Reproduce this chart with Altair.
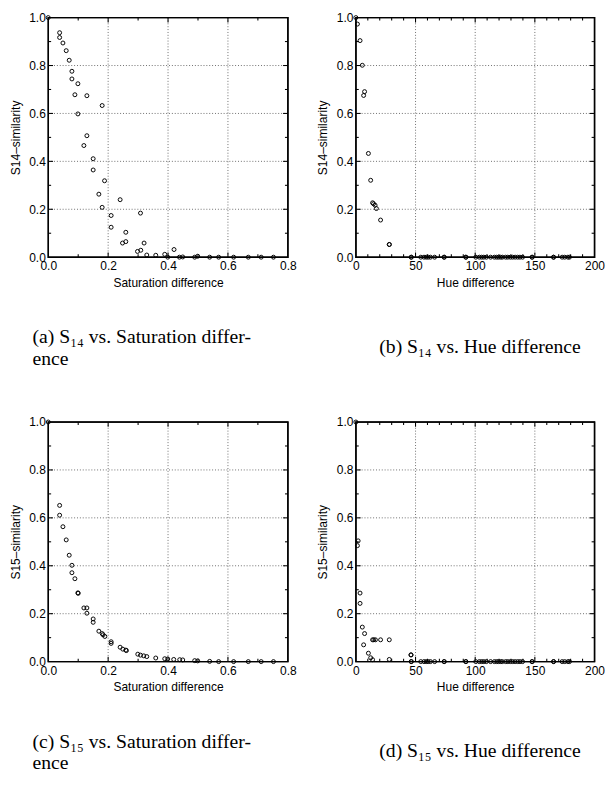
import altair as alt
import pandas as pd

# ---------------- data ----------------
sat14_x = [0.0, 0.038, 0.038, 0.049, 0.060, 0.070, 0.079, 0.079, 0.099, 0.089, 0.129, 0.180,
           0.099, 0.129, 0.119, 0.150, 0.150, 0.188, 0.169, 0.240, 0.180, 0.308, 0.210, 0.210,
           0.259, 0.259, 0.248, 0.320, 0.309, 0.298, 0.420, 0.329, 0.359, 0.389, 0.399, 0.438,
           0.449, 0.489, 0.499, 0.539, 0.569, 0.619, 0.668, 0.711, 0.752]
sat14_y = [1.0, 0.937, 0.917, 0.894, 0.862, 0.822, 0.776, 0.744, 0.724, 0.678, 0.674, 0.633,
           0.598, 0.507, 0.466, 0.411, 0.364, 0.319, 0.263, 0.240, 0.208, 0.184, 0.174, 0.125,
           0.104, 0.065, 0.059, 0.059, 0.029, 0.024, 0.032, 0.009, 0.008, 0.012, 0.0, 0.0,
           0.001, 0.0, 0.004, 0.0, 0.0, 0.0, 0.0, 0.0, 0.0]

sat15_x = [0.0, 0.038, 0.038, 0.049, 0.060, 0.070, 0.079, 0.079, 0.089, 0.099, 0.100, 0.119,
           0.129, 0.129, 0.150, 0.150, 0.169, 0.180, 0.183, 0.189, 0.210, 0.210, 0.240, 0.249,
           0.259, 0.261, 0.299, 0.308, 0.319, 0.329, 0.359, 0.389, 0.399, 0.419, 0.439, 0.449,
           0.489, 0.499, 0.539, 0.569, 0.619, 0.668, 0.711, 0.752]
sat15_y = [1.0, 0.652, 0.611, 0.563, 0.508, 0.444, 0.402, 0.371, 0.346, 0.287, 0.285, 0.224,
           0.224, 0.202, 0.178, 0.164, 0.127, 0.117, 0.112, 0.105, 0.083, 0.076, 0.060, 0.052,
           0.048, 0.046, 0.031, 0.027, 0.024, 0.021, 0.015, 0.012, 0.011, 0.009, 0.008, 0.007,
           0.004, 0.003, 0.001, 0.0, 0.0, 0.0, 0.0, 0.0]

# hue differences of the pairs whose similarity is zero (shared by both hue panels)
hue_zero_x = [46.4, 46.4, 54.4, 57.1, 59.0, 60.6, 62.5, 66.0, 74.0, 74.0, 92.2, 92.2, 100.5,
              103.5, 105.4, 107.2, 109.4, 112.9, 116.1, 118.0, 119.6, 121.4, 122.8, 125.5,
              127.3, 129.5, 131.4, 133.5, 135.6, 137.5, 139.7, 147.7, 147.7, 165.7, 165.7,
              172.9, 175.0, 177.7, 179.0]

hue14_x = [0.0, 1.3, 3.5, 5.4, 7.3, 6.5, 10.5, 12.4, 14.0, 14.8, 16.1, 17.2, 20.7, 28.0, 28.0]
hue14_y = [1.0, 0.973, 0.904, 0.801, 0.691, 0.675, 0.433, 0.321, 0.227, 0.223, 0.217, 0.203,
           0.155, 0.053, 0.053]

hue15_x = [0.0, 1.9, 1.3, 3.5, 3.5, 5.4, 7.3, 6.5, 10.5, 12.4, 14.0, 14.0, 15.0, 16.4, 20.7,
           28.0, 28.0, 46.2, 46.2]
hue15_y = [1.0, 0.504, 0.484, 0.286, 0.243, 0.144, 0.117, 0.070, 0.035, 0.016, 0.008, 0.091,
           0.091, 0.091, 0.091, 0.091, 0.009, 0.028, 0.028]

sat_major = [0.0, 0.2, 0.4, 0.6, 0.8]
sat_minor = [0.1, 0.3, 0.5, 0.7]
hue_major = [0, 50, 100, 150, 200]
hue_minor = [10, 20, 30, 40, 60, 70, 80, 90, 110, 120, 130, 140, 160, 170, 180, 190]
y_major = [0.0, 0.2, 0.4, 0.6, 0.8, 1.0]
y_minor = [0.1, 0.3, 0.5, 0.7, 0.9]

captions = {
    "a": ["(a) S\u2081\u2084 vs. Saturation differ-", "ence"],
    "b": ["(b) S\u2081\u2084 vs. Hue difference"],
    "c": ["(c) S\u2081\u2085 vs. Saturation differ-", "ence"],
    "d": ["(d) S\u2081\u2085 vs. Hue difference"],
}

SANS = "Liberation Sans"
SERIF = "Liberation Serif"
FS = 12.5
H = 250
MAJ = 5
MIN = 3


def panel(xs, ys, xdom, xmajor, xminor, xfmt, xtitle, ytitle, width, caption, two_line):
    df = pd.DataFrame({"x": xs, "y": ys})
    xscale = alt.Scale(domain=xdom, nice=False, zero=False)
    yscale = alt.Scale(domain=[0, 1], nice=False)
    common = dict(grid=False, ticks=False, domain=False, labelFlush=False,
                  labelFont=SANS, labelFontSize=FS, labelColor="black",
                  titleFont=SANS, titleFontSize=FS, titleFontWeight="normal",
                  titleColor="black")
    xaxis = alt.Axis(values=xmajor, format=xfmt, labelPadding=3, title=xtitle,
                     titlePadding=5, **common)
    yaxis = alt.Axis(values=y_major, format=".1f", labelPadding=3, title=ytitle,
                     titlePadding=7, **common)

    def X():
        return alt.X("x:Q", scale=xscale, axis=xaxis, title=xtitle)

    def Y():
        return alt.Y("y:Q", scale=yscale, axis=yaxis, title=ytitle)

    inner_xmaj = [v for v in xmajor if v not in (xdom[0], xdom[1])]
    inner_ymaj = [v for v in y_major if v not in (0.0, 1.0)]
    layers = []

    # dotted grid at the inner major values
    gx = alt.Chart(pd.DataFrame({"x": inner_xmaj})).mark_rule(
        color="#555555", strokeDash=[1, 2], strokeWidth=0.9, clip=False)
    layers.append(gx.encode(x=X(), y=alt.value(0), y2=alt.value(H)))
    gy = alt.Chart(pd.DataFrame({"y": inner_ymaj})).mark_rule(
        color="#555555", strokeDash=[1, 2], strokeWidth=0.9, clip=False)
    layers.append(gy.encode(y=Y(), x=alt.value(0), x2=alt.value(width)))

    # inward ticks on all four sides
    for vals, ln in ((inner_xmaj, MAJ), (xminor, MIN)):
        base = alt.Chart(pd.DataFrame({"x": vals})).mark_rule(
            color="black", strokeWidth=1.1, clip=False)
        layers.append(base.encode(x=X(), y=alt.value(H), y2=alt.value(H - ln)))
        layers.append(base.encode(x=X(), y=alt.value(0), y2=alt.value(ln)))
    for vals, ln in ((inner_ymaj, MAJ), (y_minor, MIN)):
        base = alt.Chart(pd.DataFrame({"y": vals})).mark_rule(
            color="black", strokeWidth=1.1, clip=False)
        layers.append(base.encode(y=Y(), x=alt.value(0), x2=alt.value(ln)))
        layers.append(base.encode(y=Y(), x=alt.value(width), x2=alt.value(width - ln)))

    # plot frame: an unfilled rectangle spanning both scale domains
    frame_df = pd.DataFrame({"x": [xdom[0]], "x2": [xdom[1]], "y": [0.0], "y2": [1.0]})
    layers.append(alt.Chart(frame_df).mark_rect(
        filled=False, stroke="black", strokeWidth=1.5, clip=False).encode(
        x=X(), x2="x2:Q", y=Y(), y2="y2:Q"))

    pts = alt.Chart(df).mark_point(shape="circle", filled=False, color="black", size=17,
                                   strokeWidth=1, opacity=1, clip=False).encode(x=X(), y=Y())
    layers.append(pts)

    if two_line:
        title = alt.TitleParams(text=caption, orient="bottom", anchor="start", frame="bounds",
                                align="left", dx=24, offset=41, font=SERIF, fontSize=20.5,
                                fontWeight="normal", color="black", lineHeight=22)
    else:
        title = alt.TitleParams(text=caption, orient="bottom", anchor="middle", frame="group",
                                dx=5, offset=51, font=SERIF, fontSize=20.5,
                                fontWeight="normal", color="black", lineHeight=22)
    return alt.layer(*layers).properties(width=width, height=H, title=title)


pa = panel(sat14_x, sat14_y, [0, 0.8], sat_major, sat_minor, ".1f",
           "Saturation difference", "S14\u2013similarity", 250, captions["a"], True)
pb = panel(hue14_x + hue_zero_x, hue14_y + [0.0] * len(hue_zero_x), [0, 200], hue_major,
           hue_minor, "d", "Hue difference", "S14\u2013similarity", 249, captions["b"], False)
pc = panel(sat15_x, sat15_y, [0, 0.8], sat_major, sat_minor, ".1f",
           "Saturation difference", "S15\u2013similarity", 250, captions["c"], True)
pd_ = panel(hue15_x + hue_zero_x, hue15_y + [0.0] * len(hue_zero_x), [0, 200], hue_major,
            hue_minor, "d", "Hue difference", "S15\u2013similarity", 249, captions["d"], False)

row1 = alt.hconcat(pa, pb, spacing=19)
row2 = alt.hconcat(pc, pd_, spacing=19)
chart = alt.vconcat(row1, row2, spacing=47).configure_view(
    stroke="black", strokeWidth=1.4
).properties(padding={"left": 0, "top": -14, "right": 0, "bottom": 0}, background="white")

chart.save("out.html", embed_options={"renderer": "svg", "actions": False})
